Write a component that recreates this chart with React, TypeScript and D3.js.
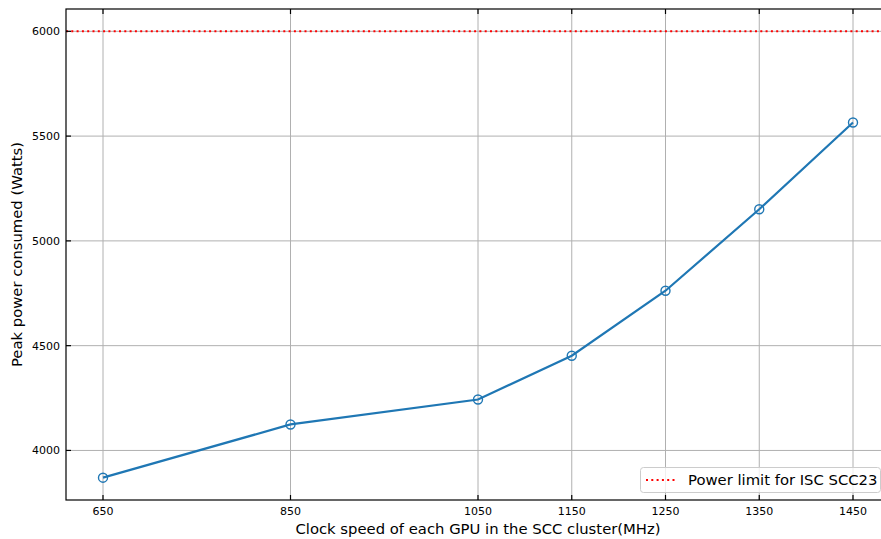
import React, { useRef, useEffect } from 'react';
import * as d3 from 'd3';

// clock speeds (MHz) and measured peak power (W)
const clocks = [650, 850, 1050, 1150, 1250, 1350, 1450];
const power = [3870, 4124, 4243, 4452, 4762, 5151, 5565];
const yTicks = [4000, 4500, 5000, 5500, 6000];
const powerLimit = 6000;
const legendLabel = 'Power limit for ISC SCC23';

export default function App() {
  const svgRef = useRef<SVGSVGElement>(null);

  useEffect(() => {
    const width = 881;
    const height = 539;
    const left = 66, top = 9, bottom = 500;
    const font = 'DejaVu Sans, sans-serif';

    const svg = d3.select(svgRef.current);
    svg.selectAll('*').remove();

    // scales (matplotlib-like 5% margins)
    const x = d3.scaleLinear().domain([610, 1490]).range([65.5, 890.5]);
    const y = d3.scaleLinear().domain([3763.5, 6106.5]).range([bottom, top]);
    const right = x(1490);

    // grid
    const grid = svg.append('g').attr('stroke', '#b0b0b0').attr('stroke-width', 1);
    grid.selectAll('.gx').data(clocks).enter().append('line')
      .attr('x1', d => x(d)).attr('x2', d => x(d))
      .attr('y1', top).attr('y2', bottom);
    grid.selectAll('.gy').data(yTicks).enter().append('line')
      .attr('x1', left).attr('x2', right)
      .attr('y1', d => y(d)).attr('y2', d => y(d));

    // power limit line
    svg.append('line')
      .attr('x1', left).attr('x2', right)
      .attr('y1', y(powerLimit)).attr('y2', y(powerLimit))
      .attr('stroke', 'red').attr('stroke-width', 2)
      .attr('stroke-dasharray', '2,3.3');

    // data line
    const line = d3.line<number>().x((_, i) => x(clocks[i])).y(d => y(d));
    svg.append('path').datum(power)
      .attr('d', line)
      .attr('fill', 'none').attr('stroke', '#1f77b4').attr('stroke-width', 2.2);
    svg.selectAll('.pt').data(power).enter().append('circle')
      .attr('cx', (_, i) => x(clocks[i])).attr('cy', d => y(d))
      .attr('r', 4.5).attr('fill', 'none')
      .attr('stroke', '#1f77b4').attr('stroke-width', 1.4);

    // spines
    svg.append('rect')
      .attr('x', left).attr('y', top)
      .attr('width', right - left).attr('height', bottom - top)
      .attr('fill', 'none').attr('stroke', 'black').attr('stroke-width', 1.2);

    // inward ticks
    const ticks = svg.append('g').attr('stroke', 'black').attr('stroke-width', 1.2);
    clocks.forEach(c => {
      ticks.append('line').attr('x1', x(c)).attr('x2', x(c)).attr('y1', bottom).attr('y2', bottom - 5);
      ticks.append('line').attr('x1', x(c)).attr('x2', x(c)).attr('y1', top).attr('y2', top + 5);
    });
    yTicks.forEach(v => {
      ticks.append('line').attr('x1', left).attr('x2', left + 5).attr('y1', y(v)).attr('y2', y(v));
    });

    // tick labels
    svg.selectAll('.xl').data(clocks).enter().append('text')
      .attr('x', d => x(d)).attr('y', 515)
      .attr('text-anchor', 'middle').attr('font-family', font).attr('font-size', 11)
      .text(d => d);
    svg.selectAll('.yl').data(yTicks).enter().append('text')
      .attr('x', 60).attr('y', d => y(d)).attr('dy', '0.35em')
      .attr('text-anchor', 'end').attr('font-family', font).attr('font-size', 11)
      .text(d => d);

    // axis labels
    svg.append('text')
      .attr('x', 478).attr('y', 534)
      .attr('text-anchor', 'middle').attr('font-family', font).attr('font-size', 14.8)
      .text('Clock speed of each GPU in the SCC cluster(MHz)');
    svg.append('text')
      .attr('transform', `translate(22, ${(top + bottom) / 2}) rotate(-90)`)
      .attr('text-anchor', 'middle').attr('font-family', font).attr('font-size', 14.8)
      .text('Peak power consumed (Watts)');

    // legend
    const lg = svg.append('g');
    lg.append('rect')
      .attr('x', 640.5).attr('y', 467.5).attr('width', 240).attr('height', 25)
      .attr('rx', 3).attr('fill', 'white').attr('fill-opacity', 0.8)
      .attr('stroke', '#cccccc').attr('stroke-width', 1);
    lg.append('line')
      .attr('x1', 646).attr('x2', 677).attr('y1', 480).attr('y2', 480)
      .attr('stroke', 'red').attr('stroke-width', 2).attr('stroke-dasharray', '2,3.3');
    lg.append('text')
      .attr('x', 688).attr('y', 480).attr('dy', '0.35em')
      .attr('font-family', font).attr('font-size', 14.8)
      .text(legendLabel);

    svg.attr('width', width).attr('height', height);
  }, []);

  return (
    <svg ref={svgRef} width={881} height={539}
      style={{ position: 'absolute', left: 0, top: 0, background: 'white' }} />
  );
}
